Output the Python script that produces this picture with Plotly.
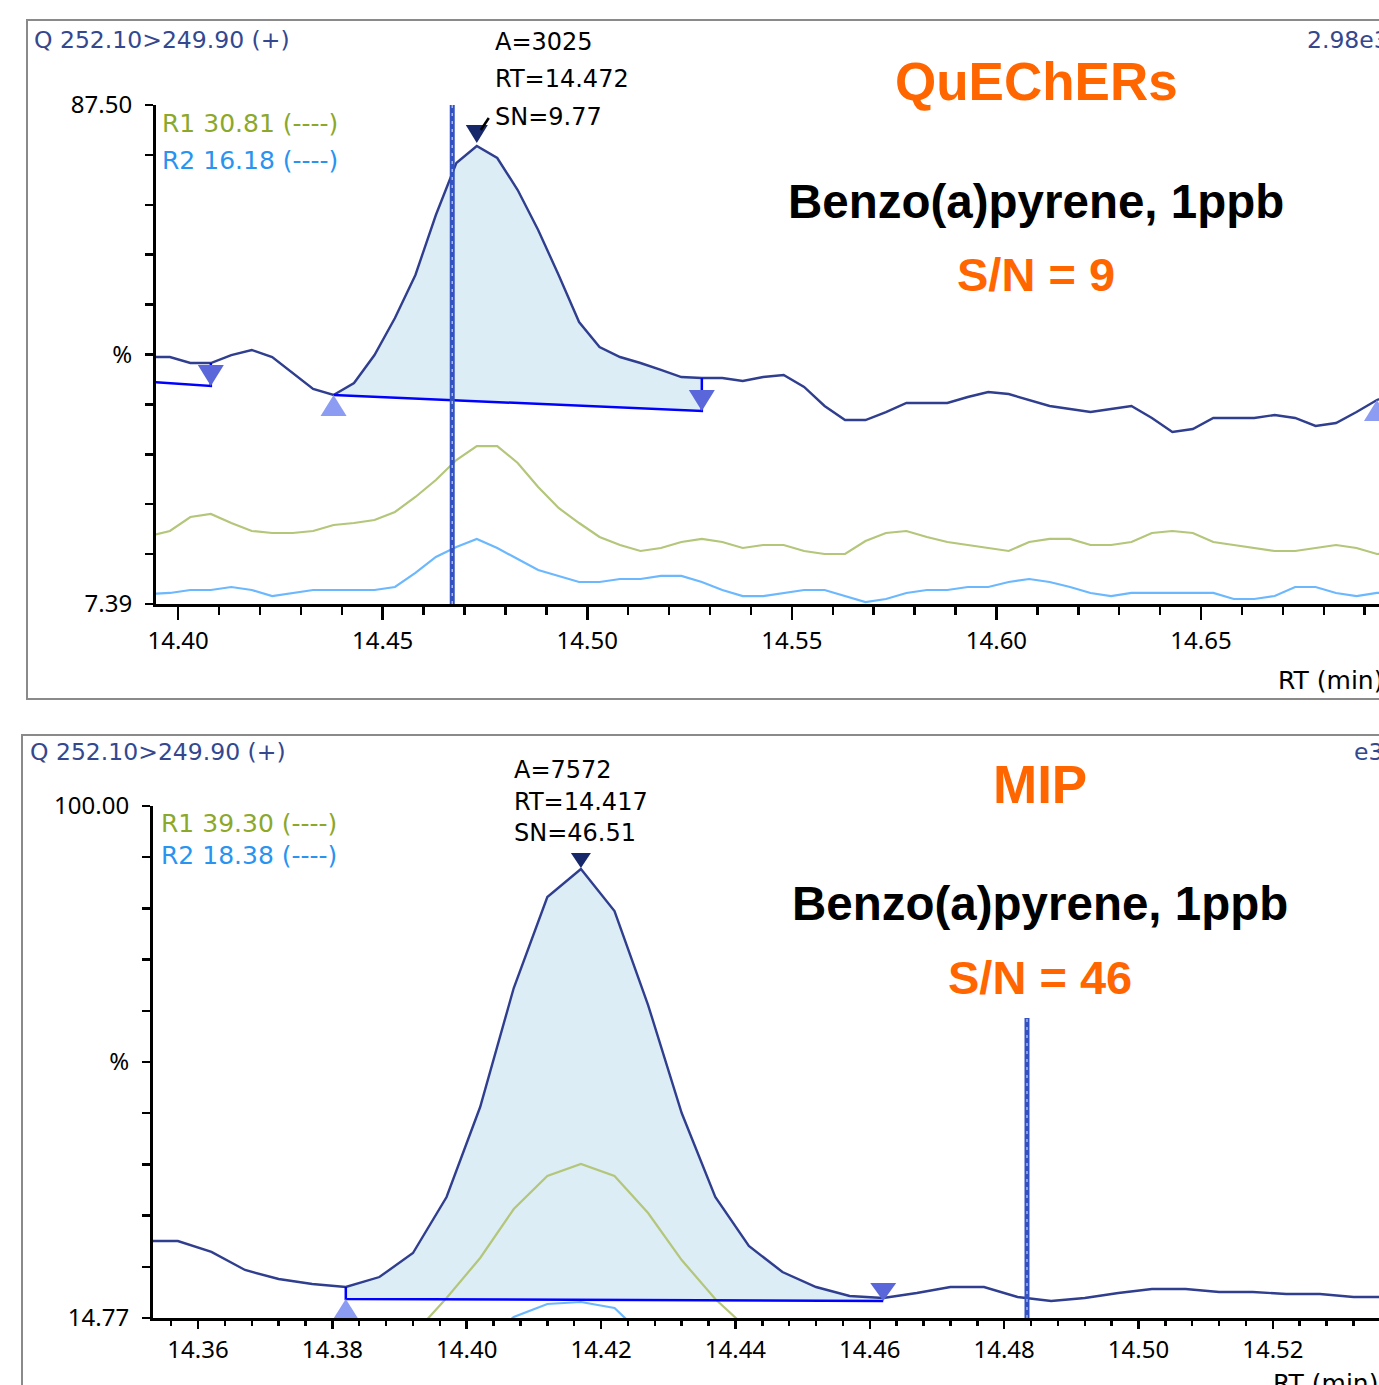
import plotly.graph_objects as go

W, H = 1379, 1385

# ---------------- data: top panel (QuEChERs) ----------------
top_rt = [14.393, 14.398, 14.403, 14.408, 14.413, 14.418, 14.423, 14.428, 14.433, 14.438,
          14.443, 14.448, 14.453, 14.458, 14.463, 14.468, 14.473, 14.478, 14.483, 14.488,
          14.493, 14.498, 14.503, 14.508, 14.513, 14.518, 14.523, 14.528, 14.533, 14.538,
          14.543, 14.548, 14.553, 14.558, 14.563, 14.568, 14.573, 14.578, 14.583, 14.588,
          14.593, 14.598, 14.603, 14.608, 14.613, 14.618, 14.623, 14.628, 14.633, 14.638,
          14.643, 14.648, 14.653, 14.658, 14.663, 14.668, 14.673, 14.678, 14.683, 14.688,
          14.693, 14.698]
top_quant = [47.04, 47.04, 46.08, 46.08, 47.36, 48.17, 47.04, 44.48, 41.91, 40.94,
             42.87, 47.36, 53.30, 60.21, 69.84, 78.19, 80.92, 78.99, 73.85, 67.43,
             60.21, 52.66, 48.65, 47.04, 46.08, 44.96, 43.83, 43.67, 43.67, 43.19,
             43.83, 44.15, 42.23, 39.18, 36.93, 36.93, 38.21, 39.66, 39.66, 39.66,
             40.62, 41.42, 41.10, 40.14, 39.18, 38.69, 38.21, 38.69, 39.18, 37.25,
             35.00, 35.48, 37.25, 37.25, 37.25, 37.73, 37.25, 35.97, 36.45, 38.21,
             40.14, 41.42]
top_r1 = [18.31, 19.11, 21.36, 21.84, 20.39, 19.11, 18.79, 18.79, 19.11, 20.07,
          20.39, 20.88, 22.16, 24.57, 27.30, 30.51, 32.75, 32.75, 30.03, 26.17,
          22.80, 20.39, 18.15, 16.86, 15.90, 16.38, 17.34, 17.83, 17.34, 16.38,
          16.86, 16.86, 15.90, 15.42, 15.42, 17.50, 18.79, 19.11, 18.15, 17.34,
          16.86, 16.38, 15.90, 17.34, 17.83, 17.83, 16.86, 16.86, 17.34, 18.79,
          19.11, 18.79, 17.34, 16.86, 16.38, 15.90, 15.90, 16.38, 16.86, 16.38,
          15.42, 15.74]
top_r2 = [8.99, 9.16, 9.64, 9.64, 10.12, 9.64, 8.67, 9.16, 9.64, 9.64,
          9.64, 9.64, 10.12, 12.37, 14.94, 16.54, 17.83, 16.38, 14.61, 12.85,
          11.89, 10.92, 10.92, 11.40, 11.40, 11.89, 11.89, 10.92, 9.64, 8.67,
          8.67, 9.16, 9.64, 9.64, 8.67, 7.71, 8.19, 9.16, 9.64, 9.64,
          10.12, 10.12, 10.92, 11.40, 10.92, 10.12, 9.16, 8.67, 9.16, 9.16,
          9.16, 9.16, 9.16, 8.19, 8.19, 8.67, 10.12, 10.12, 9.16, 8.67,
          9.16, 9.32]
top_peak_start_idx, top_peak_end_idx = 9, 27          # integrated region (indices in top_rt)
top_baseline_rt = [14.438, 14.528]
top_baseline_val = [40.94, 38.37]
top_prev_baseline_rt = [14.390, 14.408]
top_prev_baseline_val = [43.19, 42.39]
top_apex = (14.473, 80.92)
top_marker_rt = 14.467                                 # dashed RT marker
top_down_tri = [(14.408, 42.39), (14.528, 38.37)]      # (rt, value at tip)
top_up_tri = [(14.438, 40.94), (14.693, 40.14)]
top_xrange = [14.3946, 14.6935]
top_yrange = [7.39, 87.50]
top_xtick_vals = [14.40, 14.45, 14.50, 14.55, 14.60, 14.65]
top_xtick_text = ["14.40", "14.45", "14.50", "14.55", "14.60", "14.65"]
top_xminor_vals = [14.41, 14.42, 14.43, 14.44, 14.46, 14.47, 14.48, 14.49,
                   14.51, 14.52, 14.53, 14.54, 14.56, 14.57, 14.58, 14.59,
                   14.61, 14.62, 14.63, 14.64, 14.66, 14.67, 14.68, 14.69]
top_ytick_text = ["7.39", "", "", "", "", "%", "", "", "", "", "87.50"]

# ---------------- data: bottom panel (MIP) ----------------
bot_rt = [14.352, 14.357, 14.362, 14.367, 14.372, 14.377, 14.382, 14.387, 14.392, 14.397,
          14.402, 14.407, 14.412, 14.417, 14.422, 14.427, 14.432, 14.437, 14.442, 14.447,
          14.452, 14.457, 14.462, 14.467, 14.472, 14.477, 14.482, 14.487, 14.492, 14.497,
          14.502, 14.507, 14.512, 14.517, 14.522, 14.527, 14.532, 14.537]
bot_quant = [27.59, 27.59, 25.76, 22.76, 21.26, 20.43, 19.93, 21.59, 25.59, 34.91,
             49.89, 69.70, 84.85, 89.51, 82.52, 66.87, 48.89, 34.91, 26.76, 22.43,
             19.93, 18.43, 18.10, 18.93, 19.93, 19.93, 18.27, 17.60, 18.10, 18.93,
             19.60, 19.60, 19.10, 19.10, 18.77, 18.77, 18.27, 18.27]
bot_r1_rt = [14.387, 14.392, 14.397, 14.402, 14.407, 14.412, 14.417, 14.422, 14.427,
             14.432, 14.437, 14.442, 14.447]
bot_r1 = [7.78, 11.94, 18.10, 24.76, 32.91, 38.41, 40.41, 38.41, 32.25, 24.42, 17.93, 12.77, 8.61]
bot_r2_rt = [14.402, 14.407, 14.412, 14.417, 14.422, 14.427]
bot_r2 = [10.28, 14.94, 17.10, 17.43, 16.43, 11.11]
bot_peak_start_idx, bot_peak_end_idx = 6, 22
bot_baseline_rt = [14.382, 14.462]
bot_baseline_val = [17.93, 17.60]
bot_apex = (14.417, 89.51)
bot_marker_rt = 14.4834
bot_marker_top = 64.71
bot_down_tri = [(14.462, 17.60)]
bot_up_tri = [(14.382, 17.93)]
bot_xrange = [14.3533, 14.5358]
bot_yrange = [14.77, 100.00]
bot_xtick_vals = [14.36, 14.38, 14.40, 14.42, 14.44, 14.46, 14.48, 14.50, 14.52]
bot_xtick_text = ["14.36", "14.38", "14.40", "14.42", "14.44", "14.46", "14.48", "14.50", "14.52"]
bot_ytick_text = ["14.77", "", "", "", "", "%", "", "", "", "", "100.00"]

# ---------------- styles ----------------
NAVY = "#2F3E8E"
FILL = "#DCEDF5"
BASE = "#0000FF"
GREEN_LINE = "#B3C67A"
GREEN_TXT = "#8CA82A"
BLUE_LINE = "#6CB8FF"
BLUE_TXT = "#2A93F0"
ORANGE = "#FF6600"
TRI_DOWN = "#5A67DB"
TRI_UP = "#8C9CF3"
APEX = "#16276A"
DASH = "#3352C2"
HDR = "#34478F"
FRAME = "#8A8A8A"
TICK_FONT = "Noto Sans"
LABEL_FONT = "DejaVu Sans"
BIG_FONT = "Liberation Sans"


def px(x):
    return x / W


def py(y):
    return 1 - y / H


fig = go.Figure()


def add_panel(xa, ya, rt, quant, r1_rt, r1, r2_rt, r2, i0, i1, bl_rt, bl_val):
    # integrated area
    fx = list(rt[i0:i1 + 1]) + [bl_rt[1], bl_rt[0]]
    fy = list(quant[i0:i1 + 1]) + [bl_val[1], bl_val[0]]
    fig.add_trace(go.Scatter(x=fx, y=fy, fill="toself", fillcolor=FILL, mode="none",
                             xaxis=xa, yaxis=ya, hoverinfo="skip", showlegend=False))
    fig.add_trace(go.Scatter(x=r1_rt, y=r1, mode="lines", line=dict(color=GREEN_LINE, width=2.2),
                             xaxis=xa, yaxis=ya, showlegend=False))
    fig.add_trace(go.Scatter(x=r2_rt, y=r2, mode="lines", line=dict(color=BLUE_LINE, width=2.2),
                             xaxis=xa, yaxis=ya, showlegend=False))
    fig.add_trace(go.Scatter(x=rt, y=quant, mode="lines", line=dict(color=NAVY, width=2.4),
                             xaxis=xa, yaxis=ya, showlegend=False))


add_panel("x", "y", top_rt, top_quant, top_rt, top_r1, top_rt, top_r2,
          top_peak_start_idx, top_peak_end_idx, top_baseline_rt, top_baseline_val)
add_panel("x2", "y2", bot_rt, bot_quant, bot_r1_rt, bot_r1, bot_r2_rt, bot_r2,
          bot_peak_start_idx, bot_peak_end_idx, bot_baseline_rt, bot_baseline_val)

# baselines (with drop lines)
e = top_peak_end_idx
fig.add_trace(go.Scatter(x=top_baseline_rt + [top_rt[e]], y=top_baseline_val + [top_quant[e]],
                         mode="lines", line=dict(color=BASE, width=2.5), xaxis="x", yaxis="y",
                         showlegend=False))
fig.add_trace(go.Scatter(x=[top_prev_baseline_rt[0], top_prev_baseline_rt[1], top_rt[3]],
                         y=[top_prev_baseline_val[0], top_prev_baseline_val[1], top_quant[3]],
                         mode="lines", line=dict(color=BASE, width=2.5), xaxis="x", yaxis="y",
                         showlegend=False))
s = bot_peak_start_idx
fig.add_trace(go.Scatter(x=[bot_rt[s]] + bot_baseline_rt, y=[bot_quant[s]] + bot_baseline_val,
                         mode="lines", line=dict(color=BASE, width=2.5), xaxis="x2", yaxis="y2",
                         showlegend=False))

shapes = []


def tri(xref, yref, rt, val, path, color):
    shapes.append(dict(type="path", xref=xref, yref=yref, xsizemode="pixel", ysizemode="pixel",
                       xanchor=rt, yanchor=val, path=path, fillcolor=color,
                       line=dict(width=0), layer="above"))


DOWN_PATH = "M0,0 L-13,21 L13,21 Z"
UP_PATH = "M0,0 L-13,-21 L13,-21 Z"
for rt, v in top_down_tri:
    tri("x", "y", rt, v, DOWN_PATH, TRI_DOWN)
for rt, v in top_up_tri:
    tri("x", "y", rt, v, UP_PATH, TRI_UP)
for rt, v in bot_down_tri:
    tri("x2", "y2", rt, v, "M0,0 L-13,18 L13,18 Z", TRI_DOWN)
for rt, v in bot_up_tri:
    tri("x2", "y2", rt, v, "M0,0 L-12,-19 L12,-19 Z", TRI_UP)
# apex markers
tri("x", "y", top_apex[0], top_apex[1], "M0,3 L-11,21 L11,21 Z", APEX)
tri("x2", "y2", bot_apex[0], bot_apex[1], "M0,1 L-10,16 L10,16 Z", APEX)
shapes.append(dict(type="path", xref="x", yref="y", xsizemode="pixel", ysizemode="pixel",
                   xanchor=top_apex[0], yanchor=top_apex[1], path="M4,16 L12,28",
                   line=dict(color="black", width=2.5)))

# dashed RT markers
shapes.append(dict(type="line", xref="x", yref="y domain", x0=top_marker_rt, x1=top_marker_rt,
                   y0=0, y1=1, line=dict(color=DASH, width=5)))
shapes.append(dict(type="line", xref="x", yref="y domain", x0=top_marker_rt, x1=top_marker_rt,
                   y0=0, y1=1, line=dict(color="#B4C2F0", width=1.3, dash="3px,5px")))
shapes.append(dict(type="line", xref="x2", yref="y2", x0=bot_marker_rt, x1=bot_marker_rt,
                   y0=bot_yrange[0], y1=bot_marker_top, line=dict(color=DASH, width=5)))
shapes.append(dict(type="line", xref="x2", yref="y2", x0=bot_marker_rt, x1=bot_marker_rt,
                   y0=bot_yrange[0], y1=bot_marker_top,
                   line=dict(color="#B4C2F0", width=1.3, dash="3px,5px")))

# panel frames
shapes.append(dict(type="rect", xref="paper", yref="paper", x0=px(27), x1=px(1450),
                   y0=py(699), y1=py(20), line=dict(color=FRAME, width=2)))
shapes.append(dict(type="rect", xref="paper", yref="paper", x0=px(22), x1=px(1450),
                   y0=py(1450), y1=py(735), line=dict(color=FRAME, width=2)))

annotations = []


def txt(text, x, y, size, color, xanchor="left", family=LABEL_FONT, bold=False):
    if bold:
        text = "<b>" + text + "</b>"
    annotations.append(dict(text=text, x=px(x), y=py(y), xref="paper", yref="paper",
                            xanchor=xanchor, yanchor="middle", showarrow=False,
                            font=dict(size=size, color=color, family=family)))


# top panel texts
txt("Q 252.10&gt;249.90 (+)", 32, 40, 23.5, HDR)
txt("2.98e3", 1305, 40, 23.5, HDR)
txt("A=3025", 493, 42, 24, "black")
txt("RT=14.472", 493, 79, 24, "black")
txt("SN=9.77", 493, 117, 24, "black")
txt("R1 30.81 (----)", 160, 124, 25, GREEN_TXT)
txt("R2 16.18 (----)", 160, 161, 25, BLUE_TXT)
txt("RT (min)", 1276, 680, 25, "black")
txt("QuEChERs", 1036, 82, 53, ORANGE, "center", BIG_FONT, True)
txt("Benzo(a)pyrene, 1ppb", 1036, 201, 47.5, "black", "center", BIG_FONT, True)
txt("S/N = 9", 1036, 274, 47, ORANGE, "center", BIG_FONT, True)

# bottom panel texts
txt("Q 252.10&gt;249.90 (+)", 28, 752, 23.5, HDR)
txt("e3", 1352, 752, 23.5, HDR)
txt("A=7572", 512, 770, 24, "black")
txt("RT=14.417", 512, 802, 24, "black")
txt("SN=46.51", 512, 833, 24, "black")
txt("R1 39.30 (----)", 159, 823, 25, GREEN_TXT)
txt("R2 18.38 (----)", 159, 855, 25, BLUE_TXT)
txt("RT (min)", 1271, 1383, 25, "black")
txt("MIP", 1040, 785, 53, ORANGE, "center", BIG_FONT, True)
txt("Benzo(a)pyrene, 1ppb", 1040, 903, 47.5, "black", "center", BIG_FONT, True)
txt("S/N = 46", 1040, 977, 47, ORANGE, "center", BIG_FONT, True)

tickfont = dict(family=TICK_FONT, size=24, color="black")


def yticks(rng, text):
    step = (rng[1] - rng[0]) / (len(text) - 1)
    return [rng[0] + i * step for i in range(len(text))]


axis_common = dict(showline=True, linecolor="black", linewidth=3, ticks="outside",
                   tickcolor="black", tickwidth=2.5, showgrid=False, zeroline=False,
                   tickfont=tickfont, fixedrange=True, automargin=False)

layout = dict(
    width=W, height=H, margin=dict(l=0, r=0, t=0, b=0, pad=0), autosize=False,
    paper_bgcolor="white", plot_bgcolor="white", showlegend=False,
    xaxis=dict(domain=[px(156), 1], range=top_xrange, anchor="y",
               tickvals=top_xtick_vals, ticktext=top_xtick_text, ticklen=13,
               ticklabelstandoff=0,
               minor=dict(tickvals=top_xminor_vals, ticks="outside", ticklen=8,
                          tickwidth=2.5, tickcolor="black"),
               **axis_common),
    yaxis=dict(domain=[py(604), py(105)], range=top_yrange, anchor="x",
               tickvals=yticks(top_yrange, top_ytick_text), ticktext=top_ytick_text,
               ticklen=8, ticklabelstandoff=8, **axis_common),
    xaxis2=dict(domain=[px(153), 1], range=bot_xrange, anchor="y2",
                tickvals=bot_xtick_vals, ticktext=bot_xtick_text, ticklen=8,
                ticklabelstandoff=0,
                minor=dict(dtick=0.004, tick0=14.36, ticks="outside", ticklen=5,
                           tickwidth=2.5, tickcolor="black"),
                **axis_common),
    yaxis2=dict(domain=[py(1318), py(806)], range=bot_yrange, anchor="x2",
                tickvals=yticks(bot_yrange, bot_ytick_text), ticktext=bot_ytick_text,
                ticklen=8, ticklabelstandoff=8, **axis_common),
    shapes=shapes,
    annotations=annotations,
)
fig.update_layout(**layout)
fig.write_html(
    "out.html",
    config={"displayModeBar": False, "staticPlot": True},
    post_script=("document.body.style.margin='0';"
                 "document.body.style.overflow='hidden';"
                 "document.documentElement.style.overflow='hidden';"),
)
